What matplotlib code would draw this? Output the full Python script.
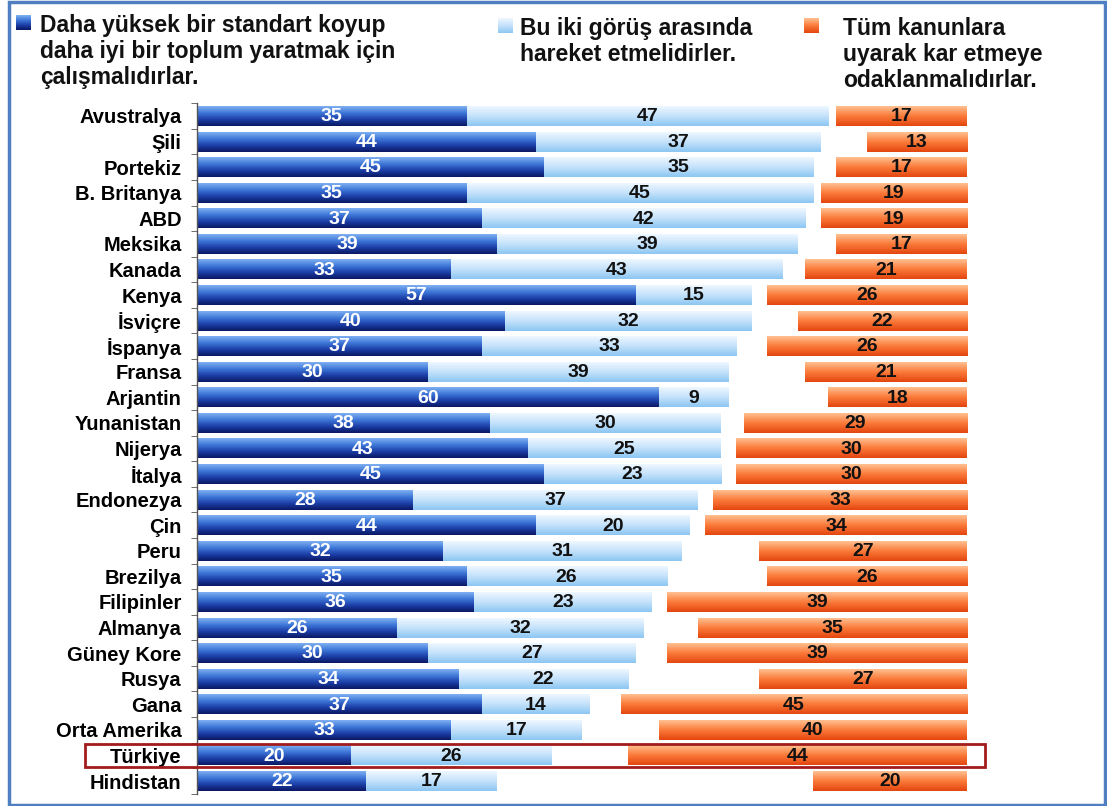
import numpy as np
import matplotlib.pyplot as plt
import matplotlib.patches as mpatches
from matplotlib.colors import LinearSegmentedColormap

plt.rcParams['font.family'] = ['Liberation Sans', 'DejaVu Sans']

countries = ["Avustralya", "Şili", "Portekiz", "B. Britanya", "ABD", "Meksika",
             "Kanada", "Kenya", "İsviçre", "İspanya", "Fransa", "Arjantin",
             "Yunanistan", "Nijerya", "İtalya", "Endonezya", "Çin", "Peru",
             "Brezilya", "Filipinler", "Almanya", "Güney Kore", "Rusya", "Gana",
             "Orta Amerika", "Türkiye", "Hindistan"]
higher_standard = [35, 44, 45, 35, 37, 39, 33, 57, 40, 37, 30, 60, 38, 43, 45,
                   28, 44, 32, 35, 36, 26, 30, 34, 37, 33, 20, 22]
in_between = [47, 37, 35, 45, 42, 39, 43, 15, 32, 33, 39, 9, 30, 25, 23,
              37, 20, 31, 26, 23, 32, 27, 22, 14, 17, 26, 17]
profit_focus = [17, 13, 17, 19, 19, 17, 21, 26, 22, 26, 21, 18, 29, 30, 30,
                33, 34, 27, 26, 39, 35, 39, 27, 45, 40, 44, 20]
legend_labels = ["Daha yüksek bir standart koyup\ndaha iyi bir toplum yaratmak için\nçalışmalıdırlar.",
                 "Bu iki görüş arasında\nhareket etmelidirler.",
                 "Tüm kanunlara\nuyarak kar etmeye\nodaklanmalıdırlar."]
highlight = "Türkiye"

# vertical gradients, top colour first
cmap_dark = LinearSegmentedColormap.from_list("dark", ["#7fb0f2", "#3f78d8", "#1c3fa8", "#0a1762"])
cmap_light = LinearSegmentedColormap.from_list("light", ["#eef7ff", "#c4e2fb", "#8cc6f2"])
cmap_orange = LinearSegmentedColormap.from_list("orange", ["#ffc090", "#fb7a3a", "#e3460f"])
grad = np.linspace(0, 1, 64).reshape(-1, 1)

W, H = 1107, 806
fig = plt.figure(figsize=(W / 100, H / 100), dpi=100)
ax = fig.add_axes([197 / W, 1 - 793.8 / H, 770 / W, 690.6 / H])

bar_h = 0.78


def gradient_bar(left, width, row, cmap):
    ax.imshow(grad, cmap=cmap, aspect='auto', origin='upper', interpolation='bilinear',
              extent=(left, left + width, row + bar_h / 2, row - bar_h / 2), zorder=2)


for i, (a, b, c) in enumerate(zip(higher_standard, in_between, profit_focus)):
    gradient_bar(0, a, i, cmap_dark)
    gradient_bar(a, b, i, cmap_light)
    gradient_bar(100 - c, c, i, cmap_orange)
    kw = dict(ha='center', va='center', fontsize=14, fontweight='bold', zorder=3)
    ax.text(a / 2, i + 0.03, str(a), color='white', **kw)
    ax.text(a + b / 2, i + 0.03, str(b), color='#111111', **kw)
    ax.text(100 - c / 2, i + 0.03, str(c), color='#111111', **kw)

ax.set_xlim(0, 100)
ax.set_ylim(len(countries) - 0.5, -0.5)
ax.set_yticks(range(len(countries)))
ax.set_yticklabels(countries, fontsize=14.5, fontweight='bold')
ax.set_yticks(np.arange(len(countries) + 1) - 0.5, minor=True)
ax.tick_params(axis='y', which='major', length=0, pad=11)
ax.tick_params(axis='y', which='minor', length=4, color='#555555', direction='out')
ax.set_xticks([])
for side in ['top', 'right', 'bottom']:
    ax.spines[side].set_visible(False)
ax.spines['left'].set_color('#555555')
ax.spines['left'].set_linewidth(1)

# highlight box around one country row
row = countries.index(highlight)
ax.add_patch(mpatches.Rectangle((-14.5, row - 0.45), 116.8, 0.9, fill=False,
                                edgecolor='#a31c1c', linewidth=2, clip_on=False, zorder=4))

# legend: gradient squares with wrapped labels
legend_cmaps = [cmap_dark, cmap_light, cmap_orange]
legend_x = [(16, 40), (498, 520), (804, 843)]
legend_y = [15, 18, 18]
for (mx, tx), my, cmap, label in zip(legend_x, legend_y, legend_cmaps, legend_labels):
    sq = fig.add_axes([mx / W, 1 - (my + 15) / H, 15 / W, 15 / H])
    sq.imshow(grad, cmap=cmap, aspect='auto', origin='upper')
    sq.set_axis_off()
    fig.text(tx / W, 1 - (my - 1) / H, label, ha='left', va='top', fontsize=16.5,
             fontweight='bold', color='#111111', linespacing=1.17)

# outer frame
fig.patches.append(mpatches.Rectangle((8.5 / W, 1.5 / H), 1096.5 / W, 802.5 / H,
                                      transform=fig.transFigure, fill=False,
                                      edgecolor='#4f7fc0', linewidth=2.5))

fig.savefig("out.png", dpi=100)
